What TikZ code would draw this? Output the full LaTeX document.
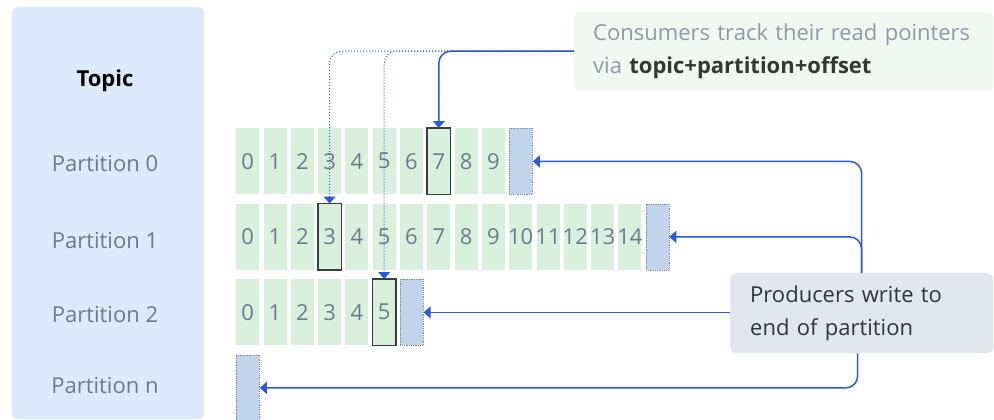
\documentclass[tikz,border=0pt]{standalone}
\usepackage{fontspec}
\setmainfont{Open Sans}
\usetikzlibrary{arrows.meta}
\definecolor{panelblue}{HTML}{DDEAFB}
\definecolor{labelgray}{HTML}{6D7A8E}
\definecolor{cellgreen}{HTML}{D8F0DC}
\definecolor{endblue}{HTML}{C2D3EC}
\definecolor{endedge}{HTML}{7C8AA6}
\definecolor{readedge}{HTML}{3A3D3A}
\definecolor{arrowblue}{HTML}{2A5BD7}
\definecolor{consgreen}{HTML}{F1F8F1}
\definecolor{consgray}{HTML}{8D9BA9}
\definecolor{consdark}{HTML}{2F3A33}
\definecolor{prodgray}{HTML}{E2E6EE}
\definecolor{proddark}{HTML}{2F3540}
\begin{document}
\fontsize{22}{33}\selectfont
\begin{tikzpicture}[x=1pt, y=-1pt]
\tikzstyle{cell}=[fill=cellgreen, minimum width=23pt, minimum height=66pt, inner sep=0pt, anchor=north west, text=labelgray]
\tikzstyle{endcell}=[cell, fill=endblue, draw=endedge, densely dotted, line width=0.8pt]
\tikzstyle{readbox}=[draw=readedge, line width=1.3pt]
\tikzstyle{rowlabel}=[text=labelgray, anchor=base]
\tikzstyle{callout}=[rounded corners=6pt, anchor=north west, inner xsep=19pt, align=left]
\tikzstyle{ptr}=[draw=arrowblue, line width=1.5pt, -{Triangle[length=7pt, width=12pt]}, rounded corners=12pt]
\tikzstyle{trail}=[ptr, line width=1pt, dotted]
\useasboundingbox (0,0) rectangle (994,420);
\fill[panelblue, rounded corners=6pt] (12,7) rectangle (204,419);
\node[anchor=base, font=\bfseries] (topic) at (105,87) {Topic};
\node[rowlabel] (p0) at (105,171) {Partition 0};
\node[rowlabel] (p1) at (105,248) {Partition 1};
\node[rowlabel] (p2) at (105,322) {Partition 2};
\node[rowlabel] (pn) at (105,393) {Partition n};
\foreach \i in {0,...,9}
  \node[cell] (r0c\i) at (236+27.3*\i,128) {\makebox[0pt]{\i}};
\node[endcell] (r0end) at (236+27.3*10,128) {};
\foreach \i in {0,...,14}
  \node[cell] (r1c\i) at (236+27.3*\i,203.5) {\makebox[0pt]{\i}};
\node[endcell] (r1end) at (236+27.3*15,203.5) {};
\foreach \i in {0,...,5}
  \node[cell] (r2c\i) at (236+27.3*\i,279) {\makebox[0pt]{\i}};
\node[endcell] (r2end) at (236+27.3*6,279) {};
\node[endcell] (rnend) at (236,354.5) {};
\draw[readbox] (r0c7.south west) rectangle (r0c7.north east);
\draw[readbox] (r1c3.south west) rectangle (r1c3.north east);
\draw[readbox] (r2c5.south west) rectangle (r2c5.north east);
\node[callout, fill=consgreen, text width=381pt, minimum height=78pt, text=consgray] (cons) at (574,12)
  {Consumers track their read pointers\\via \textcolor{consdark}{\bfseries topic+partition+offset}};
\node[callout, fill=prodgray, text width=223pt, inner xsep=20pt, minimum height=80pt, text=proddark] (prod) at (730,273)
  {Producers write to\\end of partition};
\draw[trail] (cons.west) -| (r1c3.north);
\draw[trail] (cons.west) -| (r2c5.north);
\draw[ptr] (cons.west) -| (r0c7.north);
\draw[ptr] (prod.north) |- (r0end.east);
\draw[ptr] (prod.north) |- (r1end.east);
\draw[ptr] (prod.west |- r2end.east) -- (r2end.east);
\draw[ptr] ([xshift=-4pt]prod.south) |- (rnend.east);
\end{tikzpicture}
\end{document}
